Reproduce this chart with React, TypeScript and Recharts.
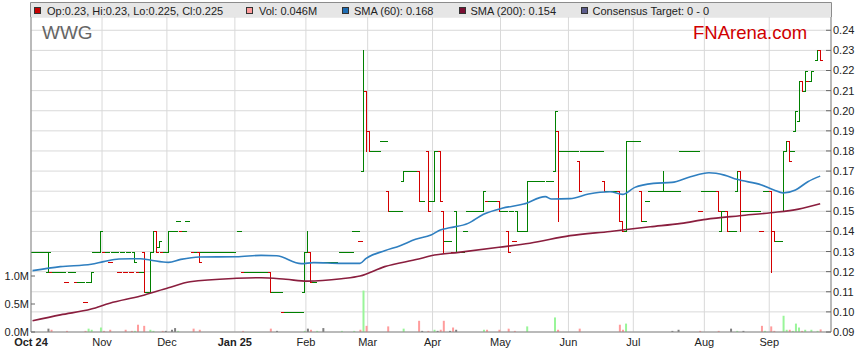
import React from 'react';
import { ComposedChart, Bar, Line, XAxis, YAxis, CartesianGrid, Cell } from 'recharts';

const FONT = '"Liberation Sans", Arial, Helvetica, sans-serif';
const UP = '#008000';
const DOWN = '#d40000';
const VOL_UP = '#99f599';
const VOL_DOWN = '#ff9c9c';
const VOL_FLAT = '#808080';

// weekday slots from 1 Oct 2024
const N_DAYS = 259;

const monthStarts = [0, 23, 44, 66, 89, 109, 130, 152, 174, 195, 218, 239];
const monthLabels = ['Oct 24', 'Nov', 'Dec', 'Jan 25', 'Feb', 'Mar', 'Apr', 'May', 'Jun', 'Jul', 'Aug', 'Sep'];
const priceTicks = [0.09, 0.1, 0.11, 0.12, 0.13, 0.14, 0.15, 0.16, 0.17, 0.18, 0.19, 0.2, 0.21, 0.22, 0.23, 0.24];
const volTicks = [0, 0.5, 1];

// days with no range: [from, to, price]
const flatRuns = [
  [0, 4, 0.13], [6, 10, 0.12], [11, 11, 0.115], [12, 13, 0.12], [14, 16, 0.115], [17, 17, 0.105], [18, 18, 0.115], [20, 21, 0.13],
  [23, 24, 0.13], [25, 25, 0.125], [26, 27, 0.13], [28, 28, 0.12], [29, 29, 0.13], [30, 30, 0.12], [31, 31, 0.13], [32, 32, 0.12],
  [34, 35, 0.12], [37, 37, 0.11], [42, 43, 0.13], [45, 46, 0.14], [47, 47, 0.145], [48, 49, 0.14], [50, 50, 0.145], [52, 53, 0.13],
  [55, 65, 0.13], [67, 67, 0.14], [68, 68, 0.12], [69, 76, 0.12], [78, 80, 0.11], [81, 87, 0.1], [91, 91, 0.115], [92, 98, 0.125],
  [100, 103, 0.13], [104, 105, 0.14], [106, 106, 0.135],
  [110, 112, 0.18], [113, 114, 0.185], [116, 119, 0.15], [121, 124, 0.17], [126, 126, 0.155], [129, 129, 0.155], [131, 131, 0.18],
  [134, 135, 0.135], [136, 136, 0.13], [138, 139, 0.13], [140, 140, 0.14], [141, 145, 0.15], [147, 150, 0.155], [152, 153, 0.15],
  [155, 155, 0.15], [156, 156, 0.135], [158, 159, 0.14], [161, 165, 0.165], [167, 168, 0.165], [171, 176, 0.18], [178, 184, 0.18],
  [186, 189, 0.16], [193, 196, 0.185], [198, 198, 0.145], [199, 199, 0.155], [200, 203, 0.16], [205, 209, 0.16], [210, 215, 0.18],
  [216, 216, 0.15], [217, 221, 0.16], [224, 224, 0.15], [226, 227, 0.14], [230, 235, 0.15], [236, 236, 0.14], [237, 238, 0.16],
  [241, 242, 0.135], [246, 246, 0.18], [251, 251, 0.215],
];

// traded bars: [day, open, high, low, close]
const tradedBars = [
  [5, 0.12, 0.13, 0.12, 0.13], [19, 0.115, 0.12, 0.115, 0.12], [22, 0.13, 0.14, 0.13, 0.14],
  [33, 0.13, 0.13, 0.125, 0.125], [36, 0.13, 0.13, 0.11, 0.11], [38, 0.11, 0.13, 0.11, 0.13], [39, 0.13, 0.14, 0.13, 0.14],
  [40, 0.14, 0.14, 0.13, 0.13], [41, 0.1325, 0.135, 0.1325, 0.135], [44, 0.13, 0.14, 0.13, 0.14], [54, 0.13, 0.13, 0.125, 0.125],
  [77, 0.12, 0.12, 0.11, 0.11], [88, 0.11, 0.13, 0.11, 0.13], [89, 0.13, 0.14, 0.13, 0.13], [90, 0.13, 0.13, 0.115, 0.115],
  [107, 0.17, 0.23, 0.17, 0.21], [108, 0.21, 0.21, 0.18, 0.19], [109, 0.19, 0.19, 0.18, 0.18], [115, 0.16, 0.16, 0.15, 0.15],
  [120, 0.165, 0.17, 0.165, 0.17], [125, 0.17, 0.17, 0.155, 0.155], [128, 0.18, 0.18, 0.15, 0.15], [130, 0.155, 0.18, 0.155, 0.18],
  [132, 0.18, 0.18, 0.155, 0.155], [133, 0.15, 0.15, 0.13, 0.135], [137, 0.15, 0.15, 0.13, 0.13], [146, 0.15, 0.16, 0.15, 0.16],
  [151, 0.155, 0.155, 0.15, 0.15], [154, 0.14, 0.14, 0.13, 0.13], [157, 0.15, 0.15, 0.14, 0.14], [160, 0.14, 0.165, 0.14, 0.165],
  [169, 0.17, 0.2, 0.17, 0.2], [170, 0.19, 0.19, 0.145, 0.18], [177, 0.175, 0.175, 0.16, 0.16], [185, 0.165, 0.165, 0.16, 0.16],
  [190, 0.16, 0.16, 0.145, 0.145], [191, 0.145, 0.145, 0.14, 0.14], [192, 0.14, 0.185, 0.14, 0.185], [197, 0.16, 0.16, 0.145, 0.145],
  [204, 0.16, 0.17, 0.16, 0.16], [222, 0.16, 0.16, 0.15, 0.15], [223, 0.14, 0.15, 0.14, 0.15], [225, 0.15, 0.15, 0.14, 0.14],
  [228, 0.16, 0.17, 0.16, 0.17], [229, 0.17, 0.17, 0.14, 0.15], [239, 0.16, 0.16, 0.12, 0.14], [240, 0.14, 0.14, 0.135, 0.135],
  [243, 0.15, 0.18, 0.15, 0.18], [244, 0.18, 0.185, 0.18, 0.185], [245, 0.185, 0.185, 0.175, 0.175], [247, 0.19, 0.2, 0.19, 0.2],
  [248, 0.195, 0.215, 0.195, 0.215], [249, 0.215, 0.215, 0.21, 0.21], [250, 0.21, 0.22, 0.21, 0.22], [252, 0.215, 0.22, 0.215, 0.22],
  [254, 0.225, 0.23, 0.225, 0.23], [255, 0.23, 0.23, 0.225, 0.225],
];

// volume in millions: [day, vol]
const volumes = [
  [5, 0.06], [6, 0.04], [11, 0.02], [17, 0.02], [18, 0.06], [19, 0.04], [22, 0.08], [23, 0.02], [25, 0.04], [30, 0.04],
  [32, 0.02], [33, 0.02], [34, 0.13], [36, 0.11], [38, 0.04], [39, 0.02], [42, 0.02], [43, 0.02], [45, 0.04], [46, 0.07],
  [47, 0.02], [52, 0.06], [54, 0.04], [68, 0.02], [77, 0.06], [79, 0.02], [88, 0.02], [89, 0.06], [90, 0.04], [92, 0.02],
  [94, 0.07], [100, 0.02], [104, 0.02], [106, 0.04], [107, 0.74], [108, 0.11], [115, 0.1], [120, 0.06], [125, 0.2], [126, 0.02],
  [128, 0.02], [130, 0.04], [131, 0.02], [132, 0.04], [133, 0.2], [135, 0.02], [136, 0.08], [137, 0.04], [146, 0.04], [147, 0.04],
  [151, 0.04], [154, 0.06], [156, 0.02], [160, 0.1], [169, 0.26], [170, 0.04], [177, 0.06], [190, 0.13], [191, 0.04], [192, 0.15],
  [207, 0.02], [209, 0.04], [216, 0.02], [222, 0.02], [226, 0.06], [228, 0.02], [230, 0.02], [236, 0.11], [237, 0.02], [239, 0.1],
  [240, 0.02], [243, 0.29], [244, 0.04], [245, 0.04], [246, 0.02], [247, 0.15], [248, 0.08], [249, 0.02], [250, 0.04], [252, 0.04],
  [254, 0.02], [255, 0.046],
];

const sma60 = [
  [0, 0.1205], [9, 0.1225], [19, 0.1237], [23, 0.125], [28, 0.1263], [35, 0.1264], [38, 0.1258], [44, 0.1246], [48, 0.1261],
  [54, 0.1273], [66, 0.1274], [74, 0.1281], [79, 0.1279], [87, 0.124], [91, 0.1245], [100, 0.1241], [106, 0.1241], [108, 0.1266],
  [114, 0.1304], [119, 0.1329], [124, 0.1361], [129, 0.1382], [132, 0.1407], [135, 0.1418], [141, 0.144], [146, 0.1485],
  [152, 0.1515], [159, 0.1536], [166, 0.1573], [168, 0.1561], [174, 0.1563], [180, 0.1586], [187, 0.1597], [191, 0.1584],
  [195, 0.1619], [201, 0.1639], [207, 0.1644], [213, 0.1672], [219, 0.1692], [224, 0.168], [228, 0.1659], [236, 0.1631],
  [240, 0.1606], [243, 0.1591], [247, 0.1606], [251, 0.1647], [255, 0.1675],
];

const sma200 = [
  [0, 0.0956], [9, 0.0985], [19, 0.1014], [25, 0.1043], [35, 0.1079], [44, 0.112], [51, 0.115], [66, 0.1167], [74, 0.117],
  [82, 0.1162], [89, 0.1153], [100, 0.1165], [106, 0.1178], [114, 0.1225], [125, 0.1263], [129, 0.1279], [138, 0.1296],
  [151, 0.1321], [161, 0.1341], [174, 0.1379], [187, 0.14], [200, 0.1423], [210, 0.144], [218, 0.146], [229, 0.1478],
  [239, 0.1493], [248, 0.1511], [255, 0.1538],
];

const legendItems = [
  { label: 'Op:0.23, Hi:0.23, Lo:0.225, Cl:0.225', color: '#c80000', box: 34, text: 47 },
  { label: 'Vol: 0.046M', color: '#ff9c9c', box: 246, text: 259 },
  { label: 'SMA (60): 0.168', color: '#1f6db3', box: 342, text: 354 },
  { label: 'SMA (200): 0.154', color: '#7a0f32', box: 459, text: 470.5 },
  { label: 'Consensus Target: 0 - 0', color: '#5c5c8c', box: 581, text: 592.5 },
];

function buildRows() {
  const rows: any[] = [];
  for (let i = 0; i < N_DAYS; i++) {
    rows.push({ t: i + 0.5, ohlc: null, range: null, vol: null, sma60: null, sma200: null, up: true, volColor: VOL_FLAT });
  }
  flatRuns.forEach(([a, b, p]) => {
    for (let i = a; i <= b; i++) rows[i].ohlc = [p, p, p, p];
  });
  tradedBars.forEach(([i, o, h, l, c]) => {
    rows[i].ohlc = [o, h, l, c];
  });
  let prev: number | null = null;
  rows.forEach((r) => {
    if (!r.ohlc) return;
    const c = r.ohlc[3];
    r.range = [r.ohlc[2], r.ohlc[1]];
    const move = prev == null ? 0 : c > prev + 1e-9 ? 1 : c < prev - 1e-9 ? -1 : 0;
    r.up = move >= 0;
    r.volColor = move > 0 ? VOL_UP : move < 0 ? VOL_DOWN : VOL_FLAT;
    prev = c;
  });
  volumes.forEach(([i, v]) => (rows[i].vol = v));
  sma60.forEach(([i, v]) => (rows[i].sma60 = v));
  sma200.forEach(([i, v]) => (rows[i].sma200 = v));
  return rows;
}

const rows = buildRows();

// OHLC bar: high-low line, open tick left, close tick right
const OhlcShape = (props: any) => {
  const { x, y, width, height, payload } = props;
  if (!payload || !payload.ohlc || !Number.isFinite(y)) return null;
  const [o, h, l, c] = payload.ohlc;
  const top = Math.min(y, y + height);
  const bottom = Math.max(y, y + height);
  const span = h - l;
  const yOf = (v: number) => Math.round(span > 0 ? top + ((h - v) / span) * (bottom - top) : top) + 0.5;
  const cx = Math.round(x + width / 2) + 0.5;
  const color = payload.up ? UP : DOWN;
  return (
    <g stroke={color} strokeWidth={1} shapeRendering="crispEdges">
      {span > 0 && <line x1={cx} x2={cx} y1={Math.round(top)} y2={Math.round(bottom) + 1} />}
      <line x1={cx - 2.5} x2={cx} y1={yOf(o)} y2={yOf(o)} />
      <line x1={cx} x2={cx + 2.5} y1={yOf(c)} y2={yOf(c)} />
    </g>
  );
};

const PriceTick = (props: any) => {
  const { x, y, payload } = props;
  return (
    <g>
      <line x1={x - 5} x2={x} y1={y} y2={y} stroke="#666" />
      <text x={x + 2} y={y} dy="0.36em" fontSize={11} fontFamily={FONT} fill="#222">
        {Number(payload.value).toFixed(2)}
      </text>
    </g>
  );
};

const VolTick = (props: any) => {
  const { x, y, payload } = props;
  return (
    <g>
      <line x1={x} x2={x + 4} y1={y} y2={y} stroke="#666" />
      <text x={x - 2} y={y} dy="0.36em" textAnchor="end" fontSize={11} fontFamily={FONT} fill="#222">
        {Number(payload.value).toFixed(1) + 'M'}
      </text>
    </g>
  );
};

const MonthTick = (props: any) => {
  const { x, y, payload } = props;
  const label = monthLabels[monthStarts.indexOf(payload.value)] ?? '';
  return (
    <text x={x} y={y + 14} textAnchor="middle" fontSize={11} fontFamily={FONT} fill="#222"
      fontWeight={/\d/.test(label) ? 'bold' : 'normal'}>
      {label}
    </text>
  );
};

export default function App() {
  return (
    <div style={{ position: 'absolute', left: 0, top: 0, width: 859, height: 363, background: '#fff' }}>
      <ComposedChart width={859} height={363} data={rows} margin={{ top: 17, right: 0, bottom: 0, left: 0 }}>
        <CartesianGrid xAxisId="x" yAxisId="price" stroke="#d9d9d9" strokeWidth={1} />
        <XAxis xAxisId="x" dataKey="t" type="number" domain={[0, N_DAYS]} ticks={monthStarts} interval={0}
          orientation="bottom" height={31} axisLine={{ stroke: '#888' }} tickLine={false} tickSize={0} tickMargin={0}
          tick={<MonthTick />} />
        <XAxis xAxisId="v" dataKey="t" type="number" domain={[0, N_DAYS]} orientation="top" height={0} hide />
        <YAxis yAxisId="price" orientation="right" type="number" domain={[0.09, 0.2466]} ticks={priceTicks}
          interval={0} width={28} axisLine={{ stroke: '#888' }} tickLine={false} tickSize={0} tickMargin={0} tick={<PriceTick />} />
        <YAxis yAxisId="vol" orientation="left" type="number" domain={[0, 5.625]} ticks={volTicks}
          interval={0} width={31} axisLine={{ stroke: '#888' }} tickLine={false} tickSize={0} tickMargin={0} tick={<VolTick />} />
        <Bar xAxisId="v" yAxisId="vol" dataKey="vol" barSize={2} isAnimationActive={false}>
          {rows.map((r, i) => (
            <Cell key={`v-${i}`} fill={r.volColor} />
          ))}
        </Bar>
        <Bar xAxisId="x" yAxisId="price" dataKey="range" barSize={3} isAnimationActive={false}
          shape={(p: any) => <OhlcShape {...p} />} />
        <Line xAxisId="x" yAxisId="price" dataKey="sma200" type="monotone" stroke="#8a1e3e" strokeWidth={1.6}
          dot={false} activeDot={false} connectNulls isAnimationActive={false} />
        <Line xAxisId="x" yAxisId="price" dataKey="sma60" type="monotone" stroke="#2f7fc0" strokeWidth={1.6}
          dot={false} activeDot={false} connectNulls isAnimationActive={false} />
      </ComposedChart>
      <svg width={859} height={363} style={{ position: 'absolute', left: 0, top: 0, pointerEvents: 'none' }}>
        <rect x={31} y={3} width={800} height={14} fill="#e6e6e6" />
        <line x1={30.5} x2={831.5} y1={2.5} y2={2.5} stroke="#8c8c8c" />
        <line x1={30.5} x2={30.5} y1={2.5} y2={17} stroke="#8c8c8c" />
        <line x1={831.5} x2={831.5} y1={2.5} y2={17} stroke="#8c8c8c" />
        {legendItems.map((it) => (
          <g key={it.label}>
            <rect x={it.box + 0.5} y={7.5} width={6} height={6} fill={it.color} stroke="#333" />
            <text x={it.text} y={14.5} fontSize={11} fontFamily={FONT} fill="#222">{it.label}</text>
          </g>
        ))}
        <text x={42} y={39} fontSize={19} fontFamily={FONT} fill="#666">WWG</text>
        <text x={693} y={39} fontSize={18.5} fontFamily={FONT} fill="#d00000">FNArena.com</text>
      </svg>
    </div>
  );
}
